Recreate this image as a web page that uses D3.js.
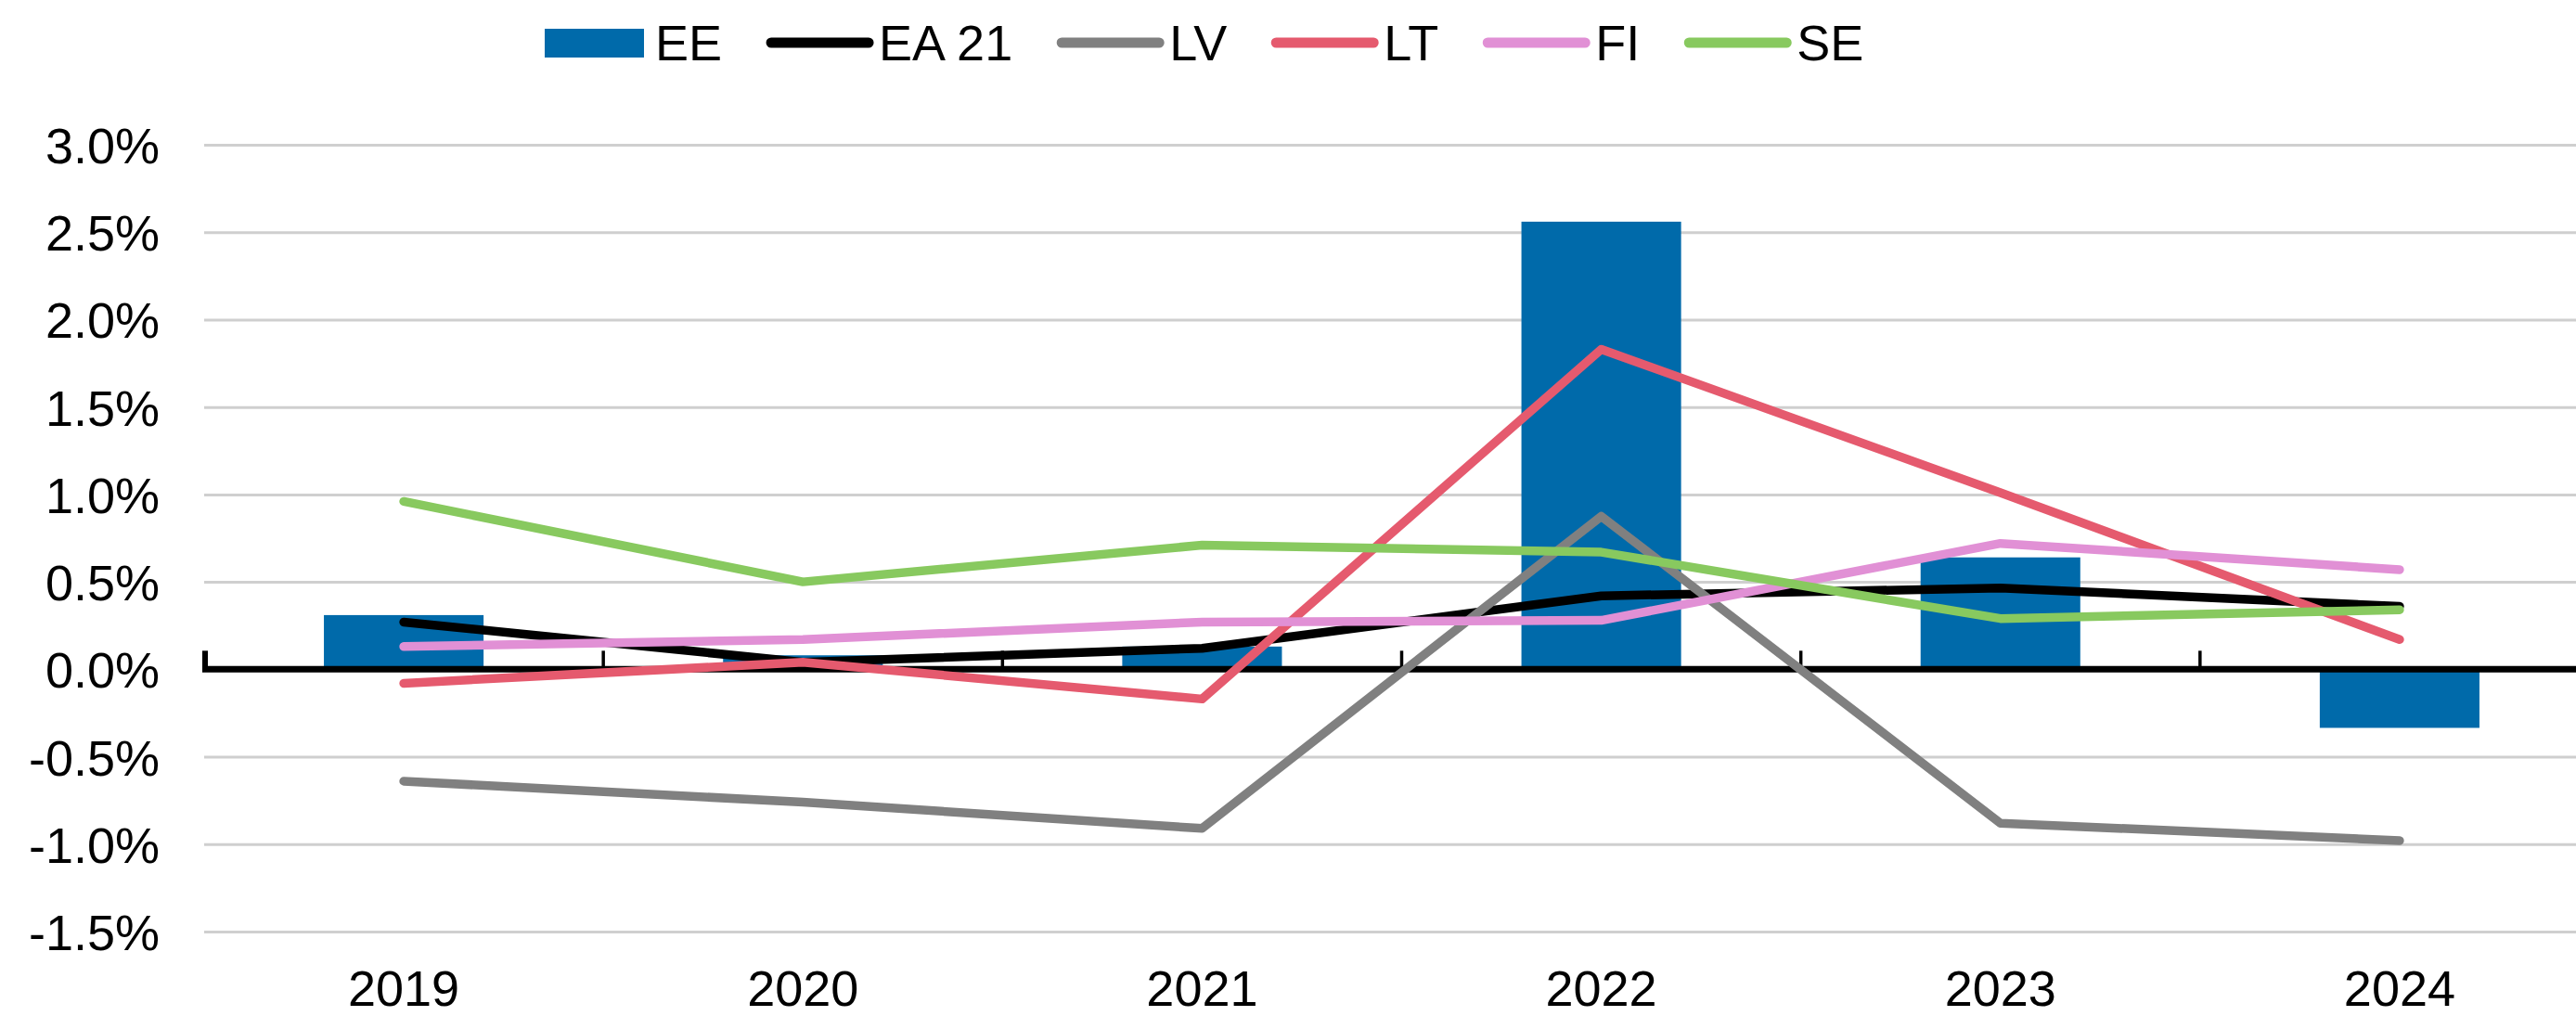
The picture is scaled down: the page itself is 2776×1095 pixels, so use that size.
<!DOCTYPE html>
<html>
<head>
<meta charset="utf-8">
<script src="https://cdn.jsdelivr.net/npm/d3@7"></script>
<style>
  html, body { margin: 0; padding: 0; background: #fff; }
  svg { display: block; }
  text { font-family: "Liberation Sans", Arial, sans-serif; font-size: 54px; fill: #000; }
</style>
</head>
<body>
<svg width="2776" height="1095"></svg>
<script>
// data (percent)
var years = ["2019", "2020", "2021", "2022", "2023", "2024"];
var ee   = [0.31, 0.08, 0.13, 2.56, 0.64, -0.335];
var ea21 = [0.27, 0.04, 0.12, 0.42, 0.465, 0.36];
var lv   = [-0.64, -0.76, -0.91, 0.875, -0.88, -0.98];
var lt   = [-0.08, 0.04, -0.17, 1.83, 1.01, 0.17];
var fi   = [0.13, 0.17, 0.27, 0.28, 0.72, 0.57];
var se   = [0.96, 0.50, 0.71, 0.67, 0.29, 0.34];
var yTicks = [-1.5, -1.0, -0.5, 0.0, 0.5, 1.0, 1.5, 2.0, 2.5, 3.0];

var lineSeries = [
  {name: "EA 21", values: ea21, color: "#000000"},
  {name: "LV", values: lv, color: "#808080"},
  {name: "LT", values: lt, color: "#e55a6e"},
  {name: "FI", values: fi, color: "#e190d5"},
  {name: "SE", values: se, color: "#88c95f"}
];
var barColor = "#006aaa";

var svg = d3.select("svg"),
    pLeft = 220, pRight = 2801, pTop = 156, pBottom = 1004;

var x = d3.scaleBand().domain(years).range([pLeft, pRight])
    .paddingInner(0.6).paddingOuter(0.3);
var y = d3.scaleLinear().domain([-1.5, 3.0]).range([pBottom, pTop]);

// gridlines
svg.append("g")
    .attr("transform", "translate(" + pLeft + ",0)")
    .call(d3.axisLeft(y).tickValues(yTicks).tickSize(-(pRight - pLeft)).tickFormat(""))
    .call(function(g) {
      g.select(".domain").remove();
      g.selectAll("line").attr("stroke", "#cfcfcf").attr("stroke-width", 3);
    });

// y labels
svg.append("g")
    .attr("transform", "translate(" + pLeft + ",0)")
    .call(d3.axisLeft(y).tickValues(yTicks).tickSize(0).tickPadding(48)
      .tickFormat(function(d) { return d.toFixed(1) + "%"; }))
    .call(function(g) {
      g.select(".domain").remove();
      g.selectAll("text").attr("font-size", null).attr("font-family", null)
        .attr("dy", "0.36em");
    });

// x labels at the bottom of the plot
svg.append("g")
    .attr("transform", "translate(0," + pBottom + ")")
    .call(d3.axisBottom(x).tickSize(0).tickPadding(42))
    .call(function(g) {
      g.select(".domain").remove();
      g.selectAll("text").attr("font-size", null).attr("font-family", null);
    });

// bars
svg.append("g").selectAll("rect")
  .data(ee)
  .enter().append("rect")
    .attr("x", function(d, i) { return x(years[i]); })
    .attr("width", x.bandwidth())
    .attr("y", function(d) { return y(Math.max(0, d)); })
    .attr("height", function(d) { return Math.abs(y(d) - y(0)); })
    .attr("fill", barColor);

// zero axis with ticks between categories
var step = x.step();
var bounds = years.map(function(d) { return x(d) - step * x.paddingInner() / 2; });
bounds.push(x(years[years.length - 1]) + x.bandwidth() + step * x.paddingInner() / 2);

var axis = svg.append("g");
axis.append("line")
    .attr("x1", pLeft - 2).attr("x2", pRight)
    .attr("y1", y(0)).attr("y2", y(0))
    .attr("stroke", "#000").attr("stroke-width", 7);
axis.selectAll("line.tick")
  .data(bounds)
  .enter().append("line")
    .attr("class", "tick")
    .attr("x1", function(d, i) { return i === 0 ? d + 1 : d; })
    .attr("x2", function(d, i) { return i === 0 ? d + 1 : d; })
    .attr("y1", y(0)).attr("y2", y(0) - 20)
    .attr("stroke", "#000")
    .attr("stroke-width", function(d, i) { return i === 0 ? 6 : 3.5; });

// lines
var line = d3.line()
    .x(function(d, i) { return x(years[i]) + x.bandwidth() / 2; })
    .y(function(d) { return y(d); });

svg.append("g").selectAll("path")
  .data(lineSeries)
  .enter().append("path")
    .attr("d", function(s) { return line(s.values); })
    .attr("fill", "none")
    .attr("stroke", function(s) { return s.color; })
    .attr("stroke-width", 9.5)
    .attr("stroke-linejoin", "round")
    .attr("stroke-linecap", "round");

// legend
var legend = svg.append("g"), lx = 587, ly = 46;
var items = [{name: "EE", color: barColor, bar: true}].concat(lineSeries);
items.forEach(function(it) {
  if (it.bar) {
    legend.append("rect")
      .attr("x", lx).attr("y", ly - 15).attr("width", 107).attr("height", 31)
      .attr("fill", it.color);
    lx += 107 + 12;
  } else {
    legend.append("line")
      .attr("x1", lx + 5).attr("x2", lx + 110)
      .attr("y1", ly).attr("y2", ly)
      .attr("stroke", it.color).attr("stroke-width", 11)
      .attr("stroke-linecap", "round");
    lx += 115 + 6;
  }
  var t = legend.append("text")
    .attr("x", lx).attr("y", ly).attr("dy", "0.36em")
    .text(it.name);
  lx += t.node().getComputedTextLength() + 48;
});
</script>
</body>
</html>
